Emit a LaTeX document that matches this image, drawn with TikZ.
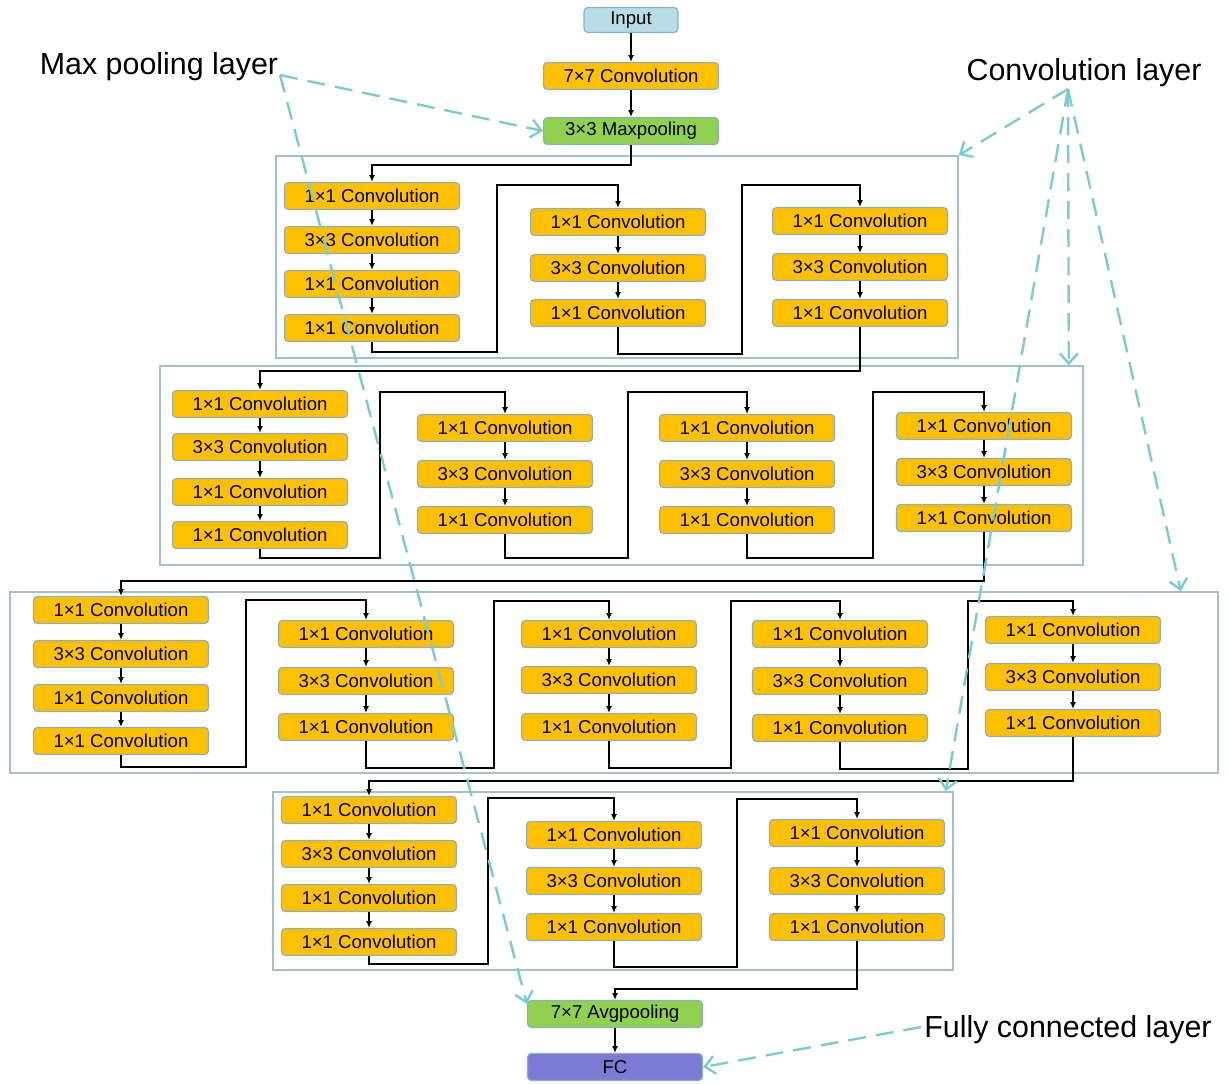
\documentclass[tikz,border=0pt]{standalone}
\usepackage{fontspec}
\setmainfont{Liberation Sans}
\usetikzlibrary{arrows.meta}
\definecolor{convor}{HTML}{FFC000}
\definecolor{poolgr}{HTML}{92D050}
\definecolor{inblue}{HTML}{B7DDE8}
\definecolor{fcpurple}{HTML}{7B7BD6}
\definecolor{boxline}{HTML}{8DAFC2}
\definecolor{stageline}{HTML}{A3C2C7}
\definecolor{hintcyan}{HTML}{7DCAD2}
\begin{document}
\begin{tikzpicture}[x=0.5pt,y=-0.5pt,font=\fontsize{9.3}{10}\selectfont,
  conv/.style={draw=boxline,fill=convor,rounded corners=2pt,line width=0.6pt,minimum width=87.5pt,minimum height=13.5pt,inner sep=0pt},
  pool/.style={conv,fill=poolgr},
  stagebox/.style={draw=stageline,line width=0.8pt,inner sep=0pt},
  flow/.style={-{Latex[length=3.4pt,width=3pt]},line width=0.7pt},
  hint/.style={draw=hintcyan,line width=1.2pt,dash pattern=on 9pt off 5pt,-{Straight Barb[length=5pt,width=9pt]}},
  lbl/.style={font=\fontsize{15.2}{18}\selectfont,inner sep=0pt}]
\useasboundingbox (0,0) rectangle (1231,1083);
% stem
\node[conv,fill=inblue,minimum width=47pt,minimum height=12.5pt] (in) at (631,20) {Input};
\node[conv] (conv7) at (631,76) {7×7 Convolution};
\node[pool] (pool1) at (631,131) {3×3 Maxpooling};
\draw[flow] (in) -- (conv7);
\draw[flow] (conv7) -- (pool1);
% stage frames
\node[stagebox,minimum width=341pt,minimum height=101pt] (f1) at (617,257) {};
\node[stagebox,minimum width=461.5pt,minimum height=99.5pt] (f2) at (621.5,465.5) {};
\node[stagebox,minimum width=604pt,minimum height=90.5pt] (f3) at (614,682.5) {};
\node[stagebox,minimum width=340pt,minimum height=89pt] (f4) at (613,881) {};
% stage 1
\node[conv] (u11a) at (372,196) {1×1 Convolution};
\node[conv] (u11b) at (372,240) {3×3 Convolution};
\node[conv] (u11c) at (372,284) {1×1 Convolution};
\node[conv] (u11d) at (372,328) {1×1 Convolution};
\node[conv] (u12a) at (618,222) {1×1 Convolution};
\node[conv] (u12b) at (618,268) {3×3 Convolution};
\node[conv] (u12c) at (618,313) {1×1 Convolution};
\node[conv] (u13a) at (860,221) {1×1 Convolution};
\node[conv] (u13b) at (860,267) {3×3 Convolution};
\node[conv] (u13c) at (860,313) {1×1 Convolution};
% stage 2
\node[conv] (u21a) at (260,404) {1×1 Convolution};
\node[conv] (u21b) at (260,447) {3×3 Convolution};
\node[conv] (u21c) at (260,492) {1×1 Convolution};
\node[conv] (u21d) at (260,535) {1×1 Convolution};
\node[conv] (u22a) at (505,428) {1×1 Convolution};
\node[conv] (u22b) at (505,474) {3×3 Convolution};
\node[conv] (u22c) at (505,520) {1×1 Convolution};
\node[conv] (u23a) at (747,428) {1×1 Convolution};
\node[conv] (u23b) at (747,474) {3×3 Convolution};
\node[conv] (u23c) at (747,520) {1×1 Convolution};
\node[conv] (u24a) at (984,426) {1×1 Convolution};
\node[conv] (u24b) at (984,472) {3×3 Convolution};
\node[conv] (u24c) at (984,518) {1×1 Convolution};
% stage 3
\node[conv] (u31a) at (121,610) {1×1 Convolution};
\node[conv] (u31b) at (121,654) {3×3 Convolution};
\node[conv] (u31c) at (121,698) {1×1 Convolution};
\node[conv] (u31d) at (121,741) {1×1 Convolution};
\node[conv] (u32a) at (366,634) {1×1 Convolution};
\node[conv] (u32b) at (366,681) {3×3 Convolution};
\node[conv] (u32c) at (366,727) {1×1 Convolution};
\node[conv] (u33a) at (609,634) {1×1 Convolution};
\node[conv] (u33b) at (609,680) {3×3 Convolution};
\node[conv] (u33c) at (609,727) {1×1 Convolution};
\node[conv] (u34a) at (840,634) {1×1 Convolution};
\node[conv] (u34b) at (840,681) {3×3 Convolution};
\node[conv] (u34c) at (840,728) {1×1 Convolution};
\node[conv] (u35a) at (1073,630) {1×1 Convolution};
\node[conv] (u35b) at (1073,677) {3×3 Convolution};
\node[conv] (u35c) at (1073,723) {1×1 Convolution};
% stage 4
\node[conv] (u41a) at (369,810) {1×1 Convolution};
\node[conv] (u41b) at (369,854) {3×3 Convolution};
\node[conv] (u41c) at (369,898) {1×1 Convolution};
\node[conv] (u41d) at (369,942) {1×1 Convolution};
\node[conv] (u42a) at (614,835) {1×1 Convolution};
\node[conv] (u42b) at (614,881) {3×3 Convolution};
\node[conv] (u42c) at (614,927) {1×1 Convolution};
\node[conv] (u43a) at (857,833) {1×1 Convolution};
\node[conv] (u43b) at (857,881) {3×3 Convolution};
\node[conv] (u43c) at (857,927) {1×1 Convolution};
% head
\node[pool] (avg) at (615,1014) {7×7 Avgpooling};
\node[conv,fill=fcpurple] (fc) at (615,1067) {FC};
% arrows inside units
\draw[flow] (u11a) -- (u11b); \draw[flow] (u11b) -- (u11c); \draw[flow] (u11c) -- (u11d);
\draw[flow] (u12a) -- (u12b); \draw[flow] (u12b) -- (u12c);
\draw[flow] (u13a) -- (u13b); \draw[flow] (u13b) -- (u13c);
\draw[flow] (u21a) -- (u21b); \draw[flow] (u21b) -- (u21c); \draw[flow] (u21c) -- (u21d);
\draw[flow] (u22a) -- (u22b); \draw[flow] (u22b) -- (u22c);
\draw[flow] (u23a) -- (u23b); \draw[flow] (u23b) -- (u23c);
\draw[flow] (u24a) -- (u24b); \draw[flow] (u24b) -- (u24c);
\draw[flow] (u31a) -- (u31b); \draw[flow] (u31b) -- (u31c); \draw[flow] (u31c) -- (u31d);
\draw[flow] (u32a) -- (u32b); \draw[flow] (u32b) -- (u32c);
\draw[flow] (u33a) -- (u33b); \draw[flow] (u33b) -- (u33c);
\draw[flow] (u34a) -- (u34b); \draw[flow] (u34b) -- (u34c);
\draw[flow] (u35a) -- (u35b); \draw[flow] (u35b) -- (u35c);
\draw[flow] (u41a) -- (u41b); \draw[flow] (u41b) -- (u41c); \draw[flow] (u41c) -- (u41d);
\draw[flow] (u42a) -- (u42b); \draw[flow] (u42b) -- (u42c);
\draw[flow] (u43a) -- (u43b); \draw[flow] (u43b) -- (u43c);
% links between units
\draw[flow] (pool1.south) -- ++(0,20) -| (u11a.north);
\draw[flow] (u11d.south) -- ++(0,10) -| (497,185) -| (u12a.north);
\draw[flow] (u12c.south) -- ++(0,27) -| (742,185) -| (u13a.north);
\draw[flow] (u13c.south) -- ++(0,44) -| (u21a.north);
\draw[flow] (u21d.south) -- ++(0,9) -| (380,392) -| (u22a.north);
\draw[flow] (u22c.south) -- ++(0,24) -| (628,392) -| (u23a.north);
\draw[flow] (u23c.south) -- ++(0,24) -| (873,392) -| (u24a.north);
\draw[flow] (u24c.south) -- ++(0,49) -| (u31a.north);
\draw[flow] (u31d.south) -- ++(0,12) -| (246,600) -| (u32a.north);
\draw[flow] (u32c.south) -- ++(0,27) -| (494,601) -| (u33a.north);
\draw[flow] (u33c.south) -- ++(0,27) -| (731,601) -| (u34a.north);
\draw[flow] (u34c.south) -- ++(0,27) -| (968,601) -| (u35a.north);
\draw[flow] (u35c.south) -- ++(0,44) -| (u41a.north);
\draw[flow] (u41d.south) -- ++(0,8) -| (488,798) -| (u42a.north);
\draw[flow] (u42c.south) -- ++(0,26) -| (737,799) -| (u43a.north);
\draw[flow] (u43c.south) -- ++(0,48) -| (avg.north);
\draw[flow] (avg) -- (fc);
% layer labels
\node[lbl] (mpl) at (159,67) {Max pooling layer};
\node[lbl] (cvl) at (1084,73) {Convolution layer};
\node[lbl] (fcl) at (1068,1030) {Fully connected layer};
\coordinate (mpo) at (280,75);
\coordinate (cvo) at (1068,89);
\coordinate (fco) at (921,1027);
\draw[hint] (mpo) -- (pool1.west);
\draw[hint] (mpo) -- ([yshift=-2pt]avg.north west);
\draw[hint] (cvo) -- (f1.north east);
\draw[hint] (cvo) -- ([xshift=-7.5pt]f2.north east);
\draw[hint] (cvo) -- ([xshift=-19pt]f3.north east);
\draw[hint] (cvo) -- ([xshift=-4pt]f4.north east);
\draw[hint] (fco) -- (fc.east);
\end{tikzpicture}
\end{document}
